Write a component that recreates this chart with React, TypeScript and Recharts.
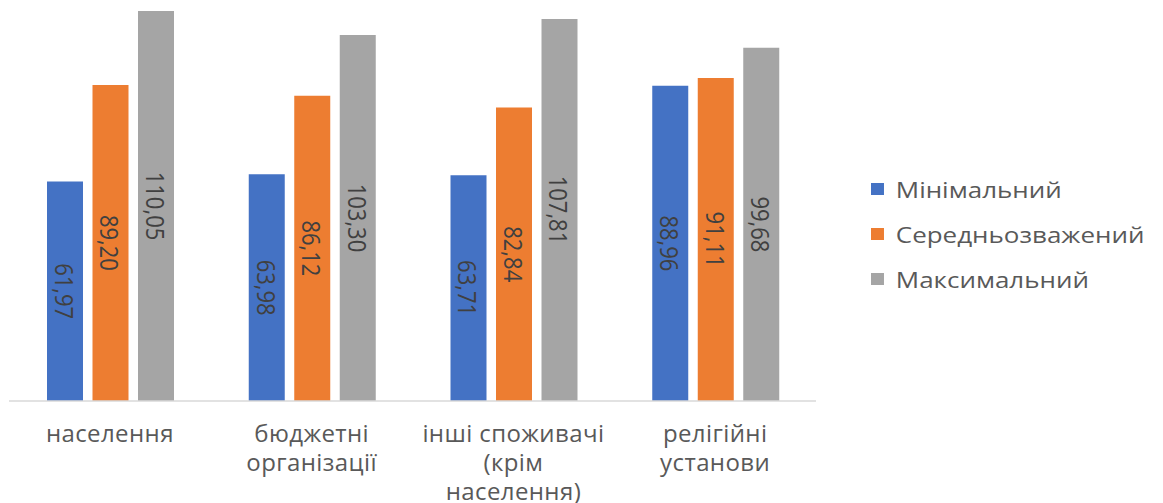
import { BarChart, Bar, XAxis, YAxis, LabelList } from "recharts";

const CATEGORIES = [
  "населення",
  "бюджетні\nорганізації",
  "інші споживачі\n(крім\nнаселення)",
  "релігійні\nустанови",
];
const MIN_VALUES = [61.97, 63.98, 63.71, 88.96];
const AVG_VALUES = [89.2, 86.12, 82.84, 91.11];
const MAX_VALUES = [110.05, 103.3, 107.81, 99.68];

const SERIES = [
  { key: "min", name: "Мінімальний", color: "#4472C4" },
  { key: "avg", name: "Середньозважений", color: "#ED7D31" },
  { key: "max", name: "Максимальний", color: "#A5A5A5" },
];

const data = CATEGORIES.map((c, i) => ({
  name: c,
  min: MIN_VALUES[i],
  avg: AVG_VALUES[i],
  max: MAX_VALUES[i],
}));

const FONT = "'Open Sans', 'Noto Sans', sans-serif";

const fmt = (v: number) => v.toFixed(2).replace(".", ",");

function CategoryTick({ x, y, payload }: any) {
  const lines = String(payload.value).split("\n");
  return (
    <g transform={`translate(${x},${y})`}>
      {lines.map((line, i) => (
        <text
          key={i}
          x={0}
          y={41 + i * 29}
          textAnchor="middle"
          fill="#595959"
          fontSize={24}
          letterSpacing={0.4}
          fontFamily={FONT}
        >
          {line}
        </text>
      ))}
    </g>
  );
}

// value written down the middle of each bar, top to bottom
function BarValue(props: any) {
  const { x, y, width, height, value } = props;
  const cx = x + width / 2;
  const cy = y + height / 2;
  return (
    <text
      x={0}
      y={0}
      transform={`translate(${cx},${cy}) rotate(90) scale(1,1.18)`}
      textAnchor="middle"
      dominantBaseline="central"
      fill="#404040"
      fontSize={22}
      fontFamily={FONT}
    >
      {fmt(value)}
    </text>
  );
}

function LegendBox() {
  return (
    <div
      style={{
        position: "absolute",
        left: 871,
        top: 166,
        fontFamily: FONT,
        fontSize: 22,
        color: "#595959",
        transform: "scaleX(1.18)",
        transformOrigin: "0 0",
      }}
    >
      {SERIES.map((s) => (
        <div key={s.key} style={{ display: "flex", alignItems: "center", height: 45, whiteSpace: "nowrap" }}>
          <span
            style={{
              width: 11,
              height: 12,
              background: s.color,
              display: "inline-block",
              marginRight: 10,
            }}
          />
          <span>{s.name}</span>
        </div>
      ))}
    </div>
  );
}

export default function App() {
  return (
    <div style={{ position: "absolute", left: 0, top: 0, width: 1163, height: 503, background: "white", overflow: "hidden" }}>
      <BarChart
        width={1163}
        height={503}
        data={data}
        margin={{ top: 11, right: 347, bottom: 2, left: 9 }}
        barGap={9.5}
        barCategoryGap={38}
      >
        <XAxis
          dataKey="name"
          height={100}
          axisLine={{ stroke: "#D9D9D9", strokeWidth: 1.5 }}
          tickLine={false}
          tickSize={0}
          tickMargin={0}
          interval={0}
          tick={<CategoryTick />}
        />
        <YAxis hide domain={[0, "dataMax"]} />
        {SERIES.map((s) => (
          <Bar key={s.key} dataKey={s.key} name={s.name} fill={s.color} isAnimationActive={false}>
            <LabelList dataKey={s.key} content={<BarValue />} />
          </Bar>
        ))}
      </BarChart>
      <LegendBox />
    </div>
  );
}
